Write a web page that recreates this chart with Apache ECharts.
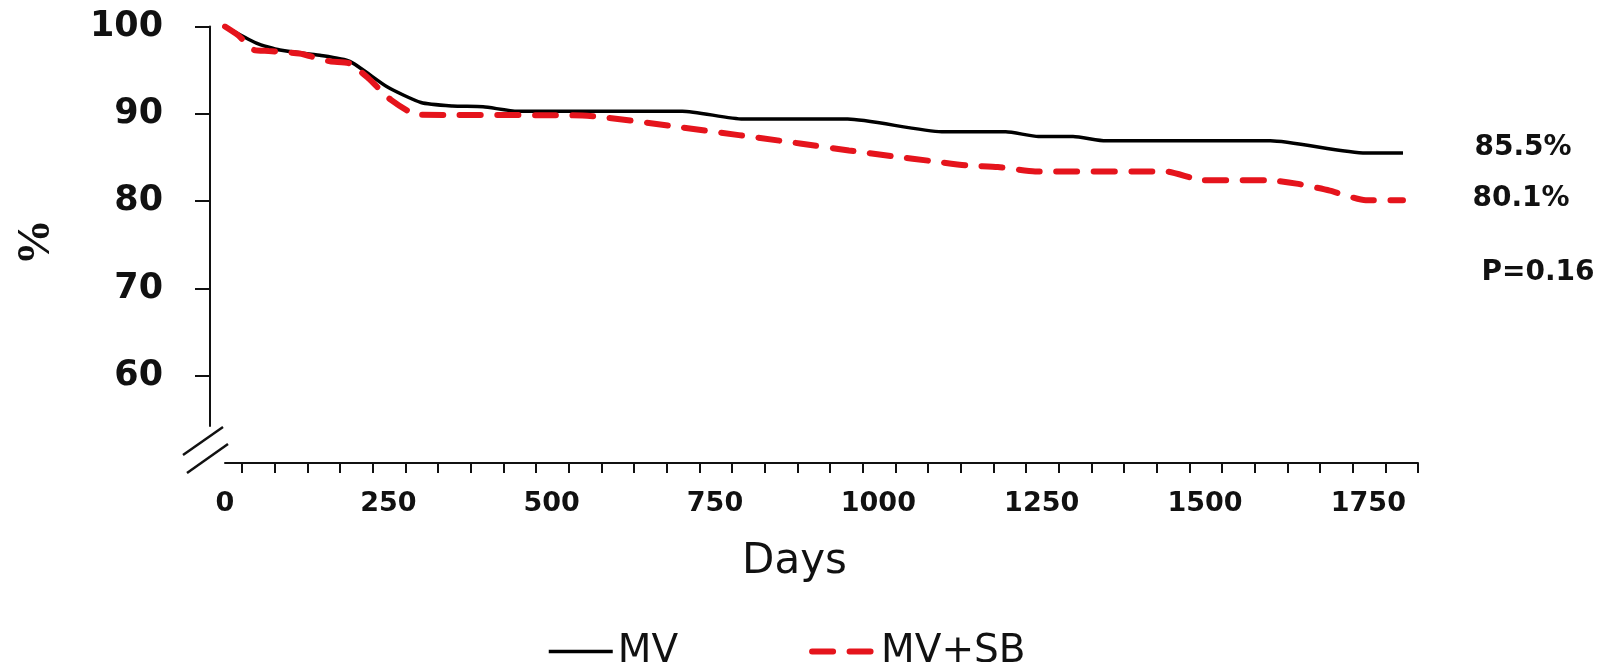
<!DOCTYPE html>
<html>
<head>
<meta charset="utf-8">
<title>MV vs MV+SB</title>
<script src="https://cdn.jsdelivr.net/npm/echarts@6.0.0/dist/echarts.min.js"></script>
<style>
    html, body { margin: 0; padding: 0; background: #fff; }
    .box { width: 1605px; height: 662px; }
</style>
</head>
<body>
<div class="box"></div>
<script>
// MV group (solid black)
const mvDays = [0, 48, 84, 145, 191, 248, 300, 348, 395, 448, 700, 793, 953, 1097, 1195, 1245, 1298, 1348, 1600, 1746, 1803];
const mvValues = [100, 98.1, 97.3, 96.7, 96.0, 93.1, 91.3, 90.9, 90.8, 90.3, 90.3, 89.4, 89.4, 87.95, 87.95, 87.4, 87.4, 86.9, 86.9, 85.5, 85.5];

// MV+SB group (red dashed)
const sbDays = [0, 20, 45, 67, 114, 161, 190, 219, 254, 295, 547, 693, 880, 955, 1025, 1080, 1134, 1183, 1240, 1440, 1497, 1595, 1640, 1691, 1746, 1803];
const sbValues = [100, 99.0, 97.3, 97.2, 96.9, 96.0, 95.8, 94.1, 91.6, 89.9, 89.8, 88.5, 86.6, 85.8, 85.1, 84.6, 84.1, 83.9, 83.4, 83.4, 82.4, 82.4, 82.0, 81.2, 80.1, 80.1];

const dayLabels = [0, 250, 500, 750, 1000, 1250, 1500, 1750];
const percentLabels = [60, 70, 80, 90, 100];
const endNotes = ['85.5%', '80.1%', 'P=0.16'];

; (function () {
    const chartDom = document.getElementsByClassName('box')[0];
    const myChart = echarts.init(chartDom);

    // minor ticks every 50 days, ending at 5 years (1826 d)
    const dayTicks = [];
    for (let d = 26; d <= 1826; d += 50) {
        dayTicks.push(d);
    }

    function zip(xs, ys) {
        return xs.map((x, i) => [x, ys[i]]);
    }

    const ink = '#111';
    const red = '#e5141c';
    const sbDash = [21, 16.5];
    const noteFont = 'bold 28px "DejaVu Sans"';
    // legend keeps only the line, no dot in the middle
    const noDot = { color: 'rgba(0,0,0,0)', borderWidth: 0 };

    const option = {
        animation: false,
        backgroundColor: '#fff',
        grid: [
            // plot area, x axis sits at y=463
            { left: 225, right: 187, top: 26.5, bottom: 199 },
            // detached y axis, stops above the break
            { left: 210, width: 1, top: 26.5, bottom: 236 }
        ],
        xAxis: [
            {
                type: 'value',
                gridIndex: 0,
                min: 0,
                max: 1826,
                splitLine: { show: false },
                axisLine: { show: true, lineStyle: { color: ink, width: 2 } },
                axisTick: {
                    show: true,
                    customValues: dayTicks,
                    length: 10,
                    lineStyle: { color: ink, width: 2 }
                },
                axisLabel: {
                    customValues: dayLabels,
                    formatter: v => String(v),
                    margin: 27,
                    color: ink,
                    fontSize: 27,
                    fontWeight: 'bold',
                    fontFamily: 'DejaVu Sans'
                },
                name: 'Days',
                nameLocation: 'middle',
                nameGap: 78,
                nameTextStyle: {
                    color: ink,
                    fontSize: 42,
                    fontFamily: 'DejaVu Sans',
                    padding: [0, 54, 0, 0]
                }
            },
            { type: 'value', gridIndex: 1, show: false, min: 0, max: 1 }
        ],
        yAxis: [
            { type: 'value', gridIndex: 0, min: 50, max: 100, show: false },
            {
                type: 'value',
                gridIndex: 1,
                min: 54.24,
                max: 100,
                splitLine: { show: false },
                axisLine: { show: true, lineStyle: { color: ink, width: 2 } },
                axisTick: {
                    show: true,
                    customValues: percentLabels,
                    length: 15,
                    lineStyle: { color: ink, width: 2 }
                },
                axisLabel: {
                    customValues: percentLabels,
                    margin: 47,
                    color: ink,
                    fontSize: 35,
                    fontWeight: 'bold',
                    fontFamily: 'DejaVu Sans'
                },
                name: '%',
                nameLocation: 'middle',
                nameGap: 150,
                nameRotate: 90,
                nameTextStyle: {
                    color: ink,
                    fontSize: 46,
                    fontWeight: 'bold',
                    fontFamily: 'Liberation Serif',
                    padding: [0, 32, 0, 0]
                }
            }
        ],
        legend: {
            data: [
                { name: 'MV', itemStyle: noDot, lineStyle: { width: 3.5, color: '#000' } },
                { name: 'MV+SB', itemStyle: noDot, lineStyle: { width: 6, color: red, type: sbDash, cap: 'round' } }
            ],
            left: 542,
            top: 627,
            itemWidth: 64,
            itemHeight: 14,
            itemGap: 131,
            textStyle: { color: ink, fontSize: 39, fontFamily: 'DejaVu Sans' }
        },
        series: [
            {
                name: 'MV',
                type: 'line',
                xAxisIndex: 0,
                yAxisIndex: 0,
                symbol: 'none',
                smooth: 0.2,
                color: '#000',
                lineStyle: { color: '#000', width: 3.5 },
                data: zip(mvDays, mvValues)
            },
            {
                name: 'MV+SB',
                type: 'line',
                xAxisIndex: 0,
                yAxisIndex: 0,
                symbol: 'none',
                smooth: 0.2,
                color: red,
                lineStyle: { color: red, width: 6, type: sbDash, cap: 'round' },
                data: zip(sbDays, sbValues)
            }
        ],
        graphic: [
            // axis break marks
            { type: 'line', shape: { x1: 183, y1: 455, x2: 223, y2: 427 }, style: { stroke: ink, lineWidth: 2.5 } },
            { type: 'line', shape: { x1: 187, y1: 473, x2: 228, y2: 444 }, style: { stroke: ink, lineWidth: 2.5 } },
            { type: 'text', x: 1523, y: 148, style: { text: endNotes[0], fill: ink, font: noteFont, align: 'center', verticalAlign: 'middle' } },
            { type: 'text', x: 1521, y: 199, style: { text: endNotes[1], fill: ink, font: noteFont, align: 'center', verticalAlign: 'middle' } },
            { type: 'text', x: 1538, y: 273, style: { text: endNotes[2], fill: ink, font: noteFont, align: 'center', verticalAlign: 'middle' } }
        ]
    };

    myChart.setOption(option);
})()
</script>
</body>
</html>
